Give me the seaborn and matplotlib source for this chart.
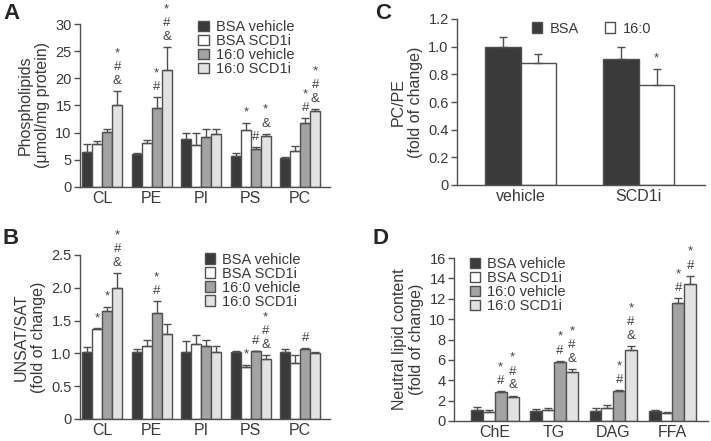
import matplotlib
matplotlib.use("Agg")
import matplotlib.pyplot as plt
import seaborn as sns
import pandas as pd
import numpy as np

sns.set_style("white")
plt.rcParams['font.family'] = ['Liberation Sans', 'DejaVu Sans']

groups4 = ["BSA vehicle", "BSA SCD1i", "16:0 vehicle", "16:0 SCD1i"]
colors4 = ["#3a3a3a", "#ffffff", "#a3a3a3", "#e2e2e2"]

# Panel A
catsA = ["CL", "PE", "PI", "PS", "PC"]
valsA = [[6.5, 6.0, 8.8, 5.7, 5.4],
         [8.0, 8.1, 7.7, 10.4, 6.6],
         [10.2, 14.5, 9.2, 7.0, 11.8],
         [15.0, 21.5, 9.7, 9.4, 13.9]]
errA = [[1.4, 0.3, 1.1, 0.6, 0.1],
        [0.5, 0.6, 2.2, 1.4, 0.9],
        [0.5, 2.0, 1.4, 0.3, 0.9],
        [2.7, 4.3, 0.9, 0.4, 0.4]]
sigA = [["", "", "", "", ""],
        ["", "", "", "*", ""],
        ["", "*\n#", "", "#", "*\n#"],
        ["*\n#\n&", "*\n#\n&", "", "*\n&", "*\n#\n&"]]

# Panel B
catsB = ["CL", "PE", "PI", "PS", "PC"]
valsB = [[1.02, 1.02, 1.02, 1.02, 1.02],
         [1.37, 1.12, 1.14, 0.79, 0.86],
         [1.65, 1.62, 1.12, 1.03, 1.06],
         [2.00, 1.30, 1.02, 0.91, 1.00]]
errB = [[0.07, 0.04, 0.17, 0.01, 0.05],
        [0.01, 0.09, 0.14, 0.04, 0.11],
        [0.06, 0.18, 0.09, 0.01, 0.02],
        [0.23, 0.15, 0.10, 0.06, 0.02]]
sigB = [["", "", "", "", ""],
        ["*", "", "", "*", ""],
        ["*", "*\n#", "", "#", "#"],
        ["*\n#\n&", "", "", "*\n#\n&", ""]]

# Panel C
catsC = ["vehicle", "SCD1i"]
groupsC = ["BSA", "16:0"]
colorsC = ["#3a3a3a", "#ffffff"]
valsC = [[1.00, 0.91], [0.88, 0.72]]
errC = [[0.07, 0.09], [0.07, 0.12]]
sigC = [["", ""], ["", "*"]]

# Panel D
catsD = ["ChE", "TG", "DAG", "FFA"]
valsD = [[1.1, 1.0, 1.0, 1.0],
         [0.9, 1.1, 1.3, 0.75],
         [2.85, 5.8, 2.95, 11.6],
         [2.35, 4.8, 6.95, 13.4]]
errD = [[0.3, 0.2, 0.25, 0.1],
        [0.15, 0.15, 0.3, 0.15],
        [0.05, 0.1, 0.07, 0.45],
        [0.15, 0.3, 0.4, 0.85]]
sigD = [["", "", "", ""],
        ["", "", "", ""],
        ["*\n#", "*\n#", "*\n#", "*\n#"],
        ["*\n#\n&", "*\n#\n&", "*\n#\n&", "*\n#"]]

W, H = 711, 441
fig = plt.figure(figsize=(W / 100, H / 100), dpi=100)

def px_axes(x0, y0, x1, y1):
    return fig.add_axes([x0 / W, 1 - y1 / H, (x1 - x0) / W, (y1 - y0) / H])

EDGE = "#505050"
TXT = "#3a3a3a"

def panel(ax, cats, groups, colors, vals, errs, sigs, ylim, yticks, yticklabels,
          xlim, width, ylabel, letter, letter_xy, legend_kw):
    rows = []
    for g, vs in zip(groups, vals):
        for c, v in zip(cats, vs):
            rows.append({"cat": c, "grp": g, "val": v})
    df = pd.DataFrame(rows)
    sns.barplot(data=df, x="cat", y="val", hue="grp", order=cats, hue_order=groups,
                palette=colors, edgecolor=EDGE, linewidth=1.0, errorbar=None,
                width=width, ax=ax, saturation=1)
    bar_conts = list(ax.containers)
    for gi, cont in enumerate(bar_conts):
        for ci, bar in enumerate(cont.patches):
            xc = bar.get_x() + bar.get_width() / 2
            top = bar.get_height()
            e = errs[gi][ci]
            ax.errorbar([xc], [top], yerr=[[0], [e]], fmt="none", ecolor=EDGE,
                        elinewidth=1.0, capsize=3, capthick=1.0, zorder=3)
            s = sigs[gi][ci]
            if s:
                ax.annotate(s, (xc, top + e), xytext=(0, 3), textcoords="offset points",
                            ha="center", va="bottom", fontsize=9.5, color="#444444",
                            linespacing=1.2)
    ax.set_ylim(*ylim)
    ax.set_yticks(yticks)
    ax.set_yticklabels(yticklabels, fontsize=10.5, color=TXT)
    ax.set_xlim(*xlim)
    ax.tick_params(axis="x", length=0, labelsize=11.5, colors=TXT, pad=3)
    ax.tick_params(axis="y", length=4, width=1, direction="out", color=EDGE, pad=2, left=True)
    ax.set_xlabel("")
    ax.set_ylabel(ylabel, fontsize=11.5, color=TXT, linespacing=1.15)
    for sp in ["top", "right"]:
        ax.spines[sp].set_visible(False)
    for sp in ["left", "bottom"]:
        ax.spines[sp].set_color(EDGE)
        ax.spines[sp].set_linewidth(1.0)
    h, l = ax.get_legend_handles_labels()
    ax.legend(h, l, frameon=False, fontsize=10.5, handlelength=0.7, handleheight=0.7,
              handletextpad=0.5, labelspacing=0.0, borderaxespad=0, **legend_kw)
    for t in ax.get_legend().get_texts():
        t.set_color(TXT)
    fig.text(letter_xy[0] / W, 1 - letter_xy[1] / H, letter, fontsize=16,
             fontweight="bold", ha="left", va="top")

axA = px_axes(80, 24, 330, 187)
panel(axA, catsA, groups4, colors4, valsA, errA, sigA, (0, 30), [0, 5, 10, 15, 20, 25, 30],
      ["0", "5", "10", "15", "20", "25", "30"], (-0.45, 4.6), 0.8,
      "Phospholipids\n(μmol/mg protein)", "A", (3, 3),
      dict(loc="upper left", bbox_to_anchor=(0.45, 1.06)))

axB = px_axes(80, 255, 330, 419)
panel(axB, catsB, groups4, colors4, valsB, errB, sigB, (0, 2.5), [0, 0.5, 1.0, 1.5, 2.0, 2.5],
      ["0", "0.5", "1.0", "1.5", "2.0", "2.5"], (-0.45, 4.6), 0.8,
      "UNSAT/SAT\n(fold of change)", "B", (3, 228),
      dict(loc="upper left", bbox_to_anchor=(0.475, 1.05)))

axC = px_axes(457, 19, 705, 185)
panel(axC, catsC, groupsC, colorsC, valsC, errC, sigC, (0, 1.2), [0, 0.2, 0.4, 0.6, 0.8, 1.0, 1.2],
      ["0", "0.2", "0.4", "0.6", "0.8", "1.0", "1.2"], (-0.54, 1.56), 0.6,
      "PC/PE\n(fold of change)", "C", (375, 3),
      dict(loc="upper left", bbox_to_anchor=(0.28, 1.02), ncol=2, columnspacing=1.8))

axD = px_axes(454, 258, 708, 421)
panel(axD, catsD, groups4, colors4, valsD, errD, sigD, (0, 16), [0, 2, 4, 6, 8, 10, 12, 14, 16],
      ["0", "2", "4", "6", "8", "10", "12", "14", "16"], (-0.69, 3.6), 0.8,
      "Neutral lipid content\n(fold of change)", "D", (373, 228),
      dict(loc="upper left", bbox_to_anchor=(0.04, 1.04)))

fig.savefig("out.png", dpi=100)
